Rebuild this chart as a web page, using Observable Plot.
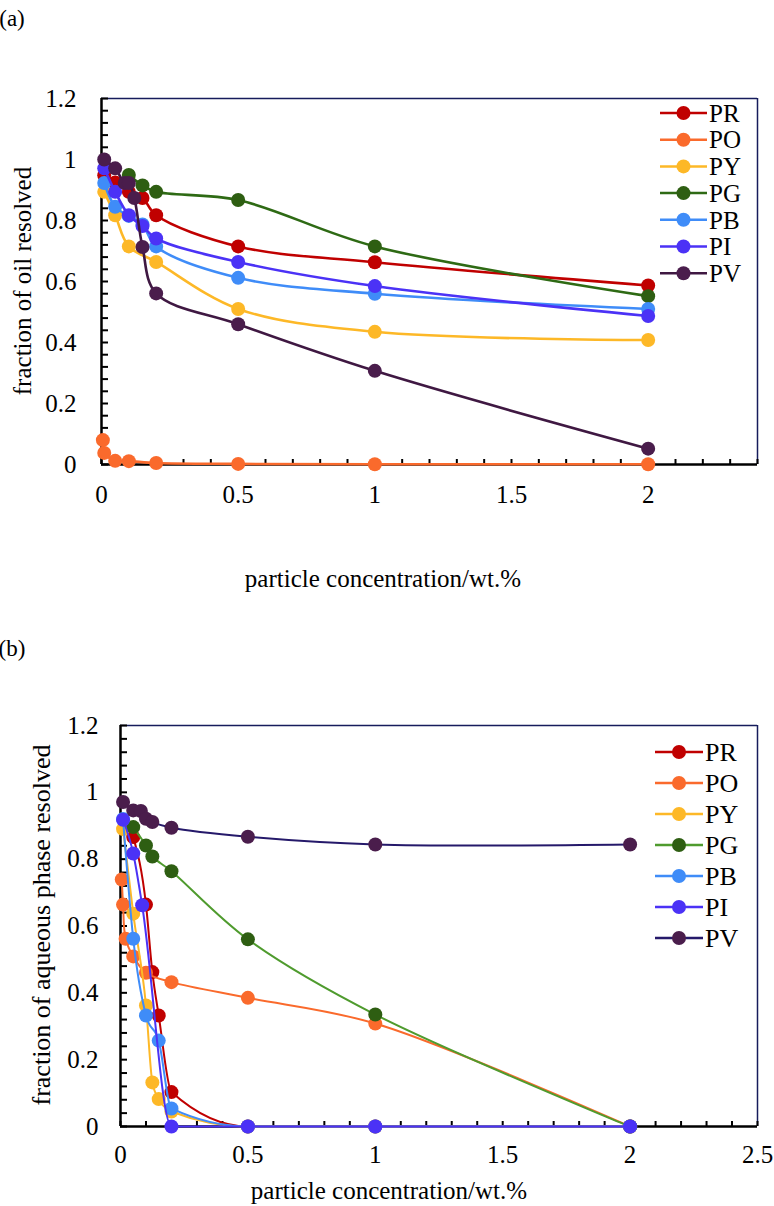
<!DOCTYPE html>
<html><head><meta charset="utf-8">
<script src="https://cdn.jsdelivr.net/npm/d3@7"></script>
<script src="https://cdn.jsdelivr.net/npm/@observablehq/plot@0.6"></script>
<style>
body{margin:0;background:#fff;}
#wrap{position:relative;width:774px;height:1206px;overflow:hidden;font-family:"Liberation Serif","Times New Roman",serif;color:#000;}
#wrap > svg{position:absolute;left:0;}
.t{position:absolute;white-space:nowrap;line-height:1;}
.rot{transform:translate(-50%,-50%) rotate(-90deg);}
.ctr{transform:translate(-50%,-50%);}
</style></head><body><div id="wrap"></div>
<script>
// ---------- series meta ----------
const seriesNames = ["PR","PO","PY","PG","PB","PI","PV"];
const markerColors = ["#C00000","#FA6A2C","#FDB827","#2E5E12","#3F8CF8","#4B32F6","#4A1D4C"];
const lineColorsA  = ["#C00000","#FA6A2C","#FDB827","#2E6A14","#3F8CF8","#4B32F6","#3F1842"];
const lineColorsB  = ["#C00000","#FA6A2C","#FDB827","#4F9B2E","#3F8CF8","#4B32F6","#25196A"];
const curvesB      = ["monotone-x","catmull-rom","monotone-x","catmull-rom","monotone-x","monotone-x","catmull-rom"];

// ---------- panel (a): fraction of oil resolved ----------
const aPR_x = [0.01,0.05,0.1,0.15,0.2,0.5,1,2];
const aPR_y = [0.948,0.925,0.894,0.874,0.817,0.715,0.663,0.587];
const aPO_x = [0.005,0.01,0.05,0.1,0.2,0.5,1,2];
const aPO_y = [0.08,0.038,0.012,0.011,0.005,0.002,0.001,0.001];
const aPY_x = [0.01,0.05,0.1,0.2,0.5,1,2];
const aPY_y = [0.894,0.817,0.715,0.664,0.51,0.435,0.408];
const aPG_x = [0.1,0.15,0.2,0.5,1,2];
const aPG_y = [0.949,0.915,0.894,0.867,0.715,0.552];
const aPB_x = [0.01,0.05,0.1,0.15,0.2,0.5,1,2];
const aPB_y = [0.923,0.845,0.815,0.787,0.715,0.612,0.56,0.51];
const aPI_x = [0.01,0.05,0.1,0.15,0.2,0.5,1,2];
const aPI_y = [0.971,0.894,0.817,0.782,0.741,0.664,0.585,0.487];
const aPV_x = [0.01,0.05,0.085,0.1,0.12,0.15,0.2,0.5,1,2];
const aPV_y = [1.0,0.971,0.923,0.923,0.874,0.713,0.561,0.46,0.307,0.052];

// ---------- panel (b): fraction of aqueous phase resolved ----------
const bPR_x = [0.05,0.1,0.125,0.15,0.2,0.5,1,2];
const bPR_y = [0.866,0.664,0.462,0.332,0.103,0,0,0];
const bPO_x = [0.005,0.01,0.02,0.05,0.1,0.2,0.5,1,2];
const bPO_y = [0.739,0.664,0.562,0.509,0.46,0.432,0.385,0.308,0];
const bPY_x = [0.01,0.05,0.1,0.125,0.15,0.2,0.5,1,2];
const bPY_y = [0.89,0.637,0.362,0.132,0.082,0.045,0,0,0];
const bPG_x = [0.05,0.1,0.125,0.2,0.5,1,2];
const bPG_y = [0.896,0.841,0.808,0.764,0.56,0.335,0];
const bPB_x = [0.01,0.05,0.1,0.15,0.2,0.5,1,2];
const bPB_y = [0.92,0.562,0.332,0.257,0.054,0,0,0];
const bPI_x = [0.01,0.05,0.085,0.2,0.5,1,2];
const bPI_y = [0.918,0.817,0.662,0,0,0,0];
const bPV_x = [0.01,0.05,0.08,0.1,0.125,0.2,0.5,1,2];
const bPV_y = [0.971,0.946,0.944,0.921,0.911,0.894,0.867,0.844,0.844];

// ---------- ticks ----------
const yMajor = [0,0.2,0.4,0.6,0.8,1,1.2];
const yMajorLabels = ["0","0.2","0.4","0.6","0.8","1","1.2"];
const aXMajor = [0,0.5,1,1.5,2];
const aXMajorLabels = ["0","0.5","1","1.5","2"];
const bXMajor = [0,0.5,1,1.5,2,2.5];
const bXMajorLabels = ["0","0.5","1","1.5","2","2.5"];
const yMinor = d3.range(0,31).map(i => +(i*0.04).toFixed(2));
const aXMinor = d3.range(0,25).map(i => +(i*0.1).toFixed(1));
const bXMinor = d3.range(0,26).map(i => +(i*0.1).toFixed(1));

const rows = (name, xs, ys) => xs.map((x,i) => ({series:name, x, y:ys[i]}));
const aData = [
  rows("PR",aPR_x,aPR_y), rows("PO",aPO_x,aPO_y), rows("PY",aPY_x,aPY_y),
  rows("PG",aPG_x,aPG_y), rows("PB",aPB_x,aPB_y), rows("PI",aPI_x,aPI_y), rows("PV",aPV_x,aPV_y)];
const bData = [
  rows("PR",bPR_x,bPR_y), rows("PO",bPO_x,bPO_y), rows("PY",bPY_x,bPY_y),
  rows("PG",bPG_x,bPG_y), rows("PB",bPB_x,bPB_y), rows("PI",bPI_x,bPI_y), rows("PV",bPV_x,bPV_y)];

const navy = "#161C5C";
const FONT = "Liberation Serif, Times New Roman, serif";

function panel(cfg){
  const marks = [
    Plot.ruleY([cfg.yDomain[1]], {stroke:navy, strokeWidth:1.5}),
    Plot.ruleX([cfg.xDomain[1]], {stroke:navy, strokeWidth:1.5}),
    Plot.axisY({ticks:yMinor, tickSize:7, dx:7, tickFormat:() => "", label:null, strokeWidth:2}),
    Plot.axisX({ticks:cfg.xMinor, tickSize:5, dy:-5, tickFormat:() => "", label:null, strokeWidth:2}),
    Plot.axisY({ticks:yMajor, tickSize:0, tickPadding:cfg.yPad, tickFormat:(d,i) => yMajorLabels[i], label:null, fontSize:cfg.tickFont, fontFamily:FONT}),
    Plot.axisX({ticks:cfg.xMajor, tickSize:0, tickPadding:cfg.xPad, tickFormat:(d,i) => cfg.xLabels[i], label:null, fontSize:cfg.tickFont, fontFamily:FONT}),
    Plot.ruleX([0], {stroke:"#000", strokeWidth:2.5}),
    Plot.ruleY([0], {stroke:"#000", strokeWidth:2.5})
  ];
  cfg.data.forEach((d,i) => {
    marks.push(Plot.line(d, {x:"x", y:"y", stroke:cfg.lineColors[i], strokeWidth:cfg.lw, curve:cfg.curves[i]}));
    marks.push(Plot.dot(d, {x:"x", y:"y", r:7, fill:markerColors[i], stroke:"none"}));
  });
  const svg = Plot.plot({
    width:774, height:cfg.height,
    marginLeft:cfg.ml, marginRight:cfg.mr, marginTop:cfg.mt, marginBottom:cfg.mb,
    x:{domain:cfg.xDomain}, y:{domain:cfg.yDomain},
    style:{background:"transparent", overflow:"visible"},
    marks
  });
  svg.style.top = cfg.top + "px";
  svg.style.fontFamily = FONT;
  return svg;
}

const wrap = document.getElementById("wrap");
wrap.appendChild(panel({top:0, height:600, ml:101, mr:17, mt:98, mb:136,
  xDomain:[0,2.4], yDomain:[0,1.2], xMinor:aXMinor, xMajor:aXMajor, xLabels:aXMajorLabels,
  yPad:25, xPad:21, tickFont:25, data:aData, lineColors:lineColorsA, lw:2.6,
  curves:seriesNames.map(() => "catmull-rom")}));
wrap.appendChild(panel({top:600, height:606, ml:120, mr:17, mt:125, mb:80,
  xDomain:[0,2.5], yDomain:[0,1.2], xMinor:bXMinor, xMajor:bXMajor, xLabels:bXMajorLabels,
  yPad:22, xPad:19, tickFont:25, data:bData, lineColors:lineColorsB, lw:2, curves:curvesB}));

function addText(txt, x, y, size, cls){
  const el = document.createElement("div");
  el.className = "t " + cls; el.textContent = txt;
  el.style.left = x + "px"; el.style.top = y + "px"; el.style.fontSize = size + "px";
  wrap.appendChild(el);
}
addText("(a)", 12, 18, 23, "ctr");
addText("(b)", 12, 648, 23, "ctr");
addText("fraction of oil resolved", 22, 281, 25, "rot");
addText("fraction of aqueous phase resolved", 42, 925, 26, "rot");
addText("particle concentration/wt.%", 383, 578, 25, "ctr");
addText("particle concentration/wt.%", 389, 1190, 25, "ctr");

// ---------- legends ----------
const leg = d3.select(wrap).append("svg").attr("width",774).attr("height",1206).style("top","0px").style("pointer-events","none");
function legend(x0, x1, y0, dy, lineColors, size){
  seriesNames.forEach((name,i) => {
    const y = y0 + i*dy;
    leg.append("line").attr("x1",x0).attr("x2",x1).attr("y1",y).attr("y2",y).attr("stroke",lineColors[i]).attr("stroke-width",2.5);
    leg.append("circle").attr("cx",(x0+x1)/2).attr("cy",y).attr("r",7).attr("fill",markerColors[i]);
    leg.append("text").attr("x",x1+2).attr("y",y).attr("dy","0.35em").attr("font-size",size).attr("font-family",FONT).text(name);
  });
}
legend(660, 707, 113, 26.7, lineColorsA, 25);
legend(655, 703, 752, 31, lineColorsB, 26);
</script></body></html>
